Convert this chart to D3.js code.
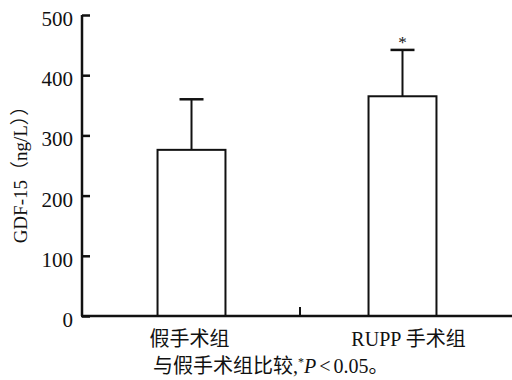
<!DOCTYPE html>
<html lang="zh">
<head>
    <meta charset="UTF-8">
    <title>GDF-15</title>
    <script src="https://cdn.jsdelivr.net/npm/d3@7"></script>
    <style>
        body { margin: 0; background: #fff; }
        text { font-family: "Liberation Serif", "Noto Sans CJK SC", serif; fill: #111; }
    </style>
</head>
<body>
<script>
    // 数据
    var groups = ["假手术组", "RUPP 手术组"];
    var means = [276, 365];
    var sds = [84, 77];
    var marks = ["", "*"];
    var yTicks = [0, 100, 200, 300, 400, 500];

    var w = 512, h = 380;
    var svg = d3.select("body").append("svg")
        .attr("width", w)
        .attr("height", h);

    var xScale = d3.scaleBand()
        .domain(groups)
        .range([82, 512])
        .paddingInner(0.678)
        .paddingOuter(0.358);
    var yScale = d3.scaleLinear()
        .domain([0, 500])
        .range([316, 15]);

    // 误差线
    svg.selectAll("line.err")
        .data(groups)
        .enter()
        .append("line")
        .attr("x1", function (d) { return xScale(d) + xScale.bandwidth() / 2; })
        .attr("x2", function (d) { return xScale(d) + xScale.bandwidth() / 2; })
        .attr("y1", function (d, i) { return yScale(means[i]); })
        .attr("y2", function (d, i) { return yScale(means[i] + sds[i]); })
        .attr("stroke", "#111")
        .attr("stroke-width", 2);
    svg.selectAll("line.cap")
        .data(groups)
        .enter()
        .append("line")
        .attr("x1", function (d) { return xScale(d) + xScale.bandwidth() / 2 - 12; })
        .attr("x2", function (d) { return xScale(d) + xScale.bandwidth() / 2 + 12; })
        .attr("y1", function (d, i) { return yScale(means[i] + sds[i]); })
        .attr("y2", function (d, i) { return yScale(means[i] + sds[i]); })
        .attr("stroke", "#111")
        .attr("stroke-width", 2.5);

    // 柱
    svg.selectAll("rect")
        .data(groups)
        .enter()
        .append("rect")
        .attr("x", function (d) { return xScale(d); })
        .attr("y", function (d, i) { return yScale(means[i]); })
        .attr("width", xScale.bandwidth())
        .attr("height", function (d, i) { return yScale(0) - yScale(means[i]); })
        .attr("fill", "#fff")
        .attr("stroke", "#111")
        .attr("stroke-width", 2);

    svg.selectAll("text.mark")
        .data(groups)
        .enter()
        .append("text")
        .text(function (d, i) { return marks[i]; })
        .attr("x", function (d) { return xScale(d) + xScale.bandwidth() / 2; })
        .attr("y", function (d, i) { return yScale(means[i] + sds[i]) - 2; })
        .attr("text-anchor", "middle")
        .attr("font-size", "17px");

    // y轴
    var yAxis = d3.axisRight(yScale)
        .tickValues(yTicks)
        .tickSize(8)
        .tickFormat(d3.format("d"));
    var gy = svg.append("g")
        .attr("transform", "translate(82,0)")
        .call(yAxis)
        .attr("font-family", null)
        .attr("font-size", null);
    gy.select(".domain").attr("stroke", "#111").attr("stroke-width", 2.5)
        .attr("d", "M0," + yScale(500) + "V" + yScale(0));
    gy.selectAll(".tick line").attr("stroke", "#111").attr("stroke-width", 2.5);
    gy.selectAll(".tick text")
        .attr("x", -9)
        .attr("dy", "0.5em")
        .attr("text-anchor", "end")
        .style("font-family", "'Liberation Serif', serif")
        .style("font-size", "21px")
        .attr("fill", "#111");

    // x轴
    svg.append("line")
        .attr("x1", 81)
        .attr("x2", 512)
        .attr("y1", yScale(0))
        .attr("y2", yScale(0))
        .attr("stroke", "#111")
        .attr("stroke-width", 2.5);
    var midX = 300;
    svg.append("line")
        .attr("x1", midX)
        .attr("x2", midX)
        .attr("y1", yScale(0))
        .attr("y2", yScale(0) - 9)
        .attr("stroke", "#111")
        .attr("stroke-width", 2);

    svg.selectAll("text.cat")
        .data(groups)
        .enter()
        .append("text")
        .text(function (d) { return d; })
        .attr("x", function (d, i) { return xScale(d) + xScale.bandwidth() / 2 + (i ? 6 : -2); })
        .attr("y", 346)
        .attr("text-anchor", "middle")
        .style("font-size", "20px");

    // 脚注
    var note = svg.append("text")
        .attr("x", 153)
        .attr("y", 373)
        .style("font-size", "20px");
    note.append("tspan").text("与假手术组比较,");
    note.append("tspan").text("*").style("font-size", "12px").attr("dy", "-7");
    note.append("tspan").text("P").attr("font-style", "italic").attr("dy", "7");
    note.append("tspan").text("<").attr("dx", 3);
    note.append("tspan").text("0.05。").attr("dx", 3);

    // y轴标题
    svg.append("text")
        .attr("transform", "translate(27,170) rotate(-90)")
        .attr("text-anchor", "middle")
        .style("font-size", "19px")
        .text("GDF-15（ng/L））");
</script>
</body>
</html>
